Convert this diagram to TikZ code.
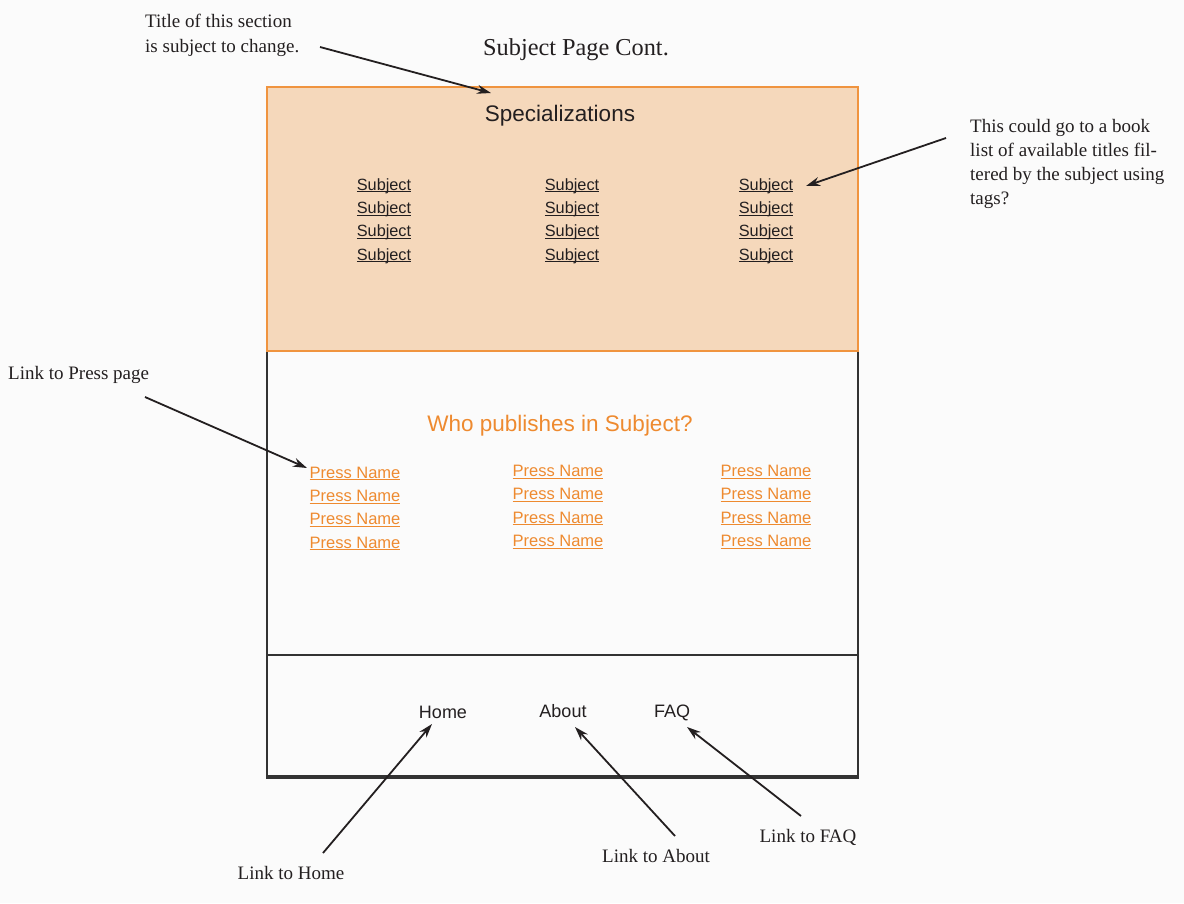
\documentclass[tikz,border=0pt]{standalone}
\usepackage{fontspec}
\setmainfont{Liberation Serif}
\newfontfamily\helv{Liberation Sans}
\usetikzlibrary{arrows.meta}
\definecolor{bgc}{HTML}{FBFBFB}
\definecolor{ink}{HTML}{231F20}
\definecolor{orfill}{HTML}{F5D8BB}
\definecolor{orline}{HTML}{F0943F}
\definecolor{ortext}{HTML}{EE8A2F}
\definecolor{boxline}{HTML}{333333}
\tikzset{
  ann/.style={inner sep=0pt, text=ink, font=\fontsize{19}{24}\selectfont},
  subj/.style={inner sep=0pt, anchor=base, text=ink, font=\helv\fontsize{16.3}{19}\selectfont},
  press/.style={inner sep=0pt, anchor=base, text=ortext, font=\helv\fontsize{16.5}{19}\selectfont},
  navl/.style={inner sep=0pt, anchor=base, text=ink, font=\helv\fontsize{18}{21}\selectfont},
  head/.style={inner sep=0pt, anchor=base, font=\helv\fontsize{22.5}{26}\selectfont},
  arr/.style={draw=ink, line width=1.8pt, -{Stealth[length=14pt,width=9pt]}},
}
\newcommand{\ul}[1]{\setbox0\hbox{#1}\rlap{\rule[-2.2pt]{\wd0}{0.9pt}}\box0}
\begin{document}
\begin{tikzpicture}[x=1pt,y=-1pt]
\fill[bgc] (0,0) rectangle (1184,903);
\useasboundingbox (0,0) rectangle (1184,903);
% boxes
\draw[boxline, line width=1.8pt] (267,351) rectangle (858,777);
\draw[boxline, line width=1.6pt] (267,655) -- (858,655);
\draw[boxline, line width=3.2pt] (266,777) -- (859,777);
\draw[orline, fill=orfill, line width=1.6pt] (267,87) rectangle (858,351);
% titles
\node[ann, anchor=base, font=\fontsize{24.3}{28}\selectfont] (pagetitle) at (576,55) {Subject Page Cont.};
\node[head, text=ink] (spec) at (560,121) {Specializations};
\node[head, text=ortext] (who) at (560,431) {Who publishes in Subject?};
% subjects
\foreach \c/\x in {1/384,2/572,3/766}{
  \foreach \r/\y in {1/190,2/213.3,3/236.6,4/260}{
    \node[subj] (s\c\r) at (\x,\y) {\ul{Subject}};
  }
}
% press names
\foreach \r/\y in {1/478,2/501.3,3/524.6,4/548}{
  \node[press] (p1\r) at (355,\y) {\ul{Press Name}};
}
\foreach \c/\x in {2/558,3/766}{
  \foreach \r/\y in {1/476.5,2/499.8,3/523.1,4/546.5}{
    \node[press] (p\c\r) at (\x,\y) {\ul{Press Name}};
  }
}
% nav
\node[navl] (home) at (443,718) {Home};
\node[navl] (about) at (563,717) {About};
\node[navl] (faq) at (672,717) {FAQ};
% annotations
\node[ann, anchor=base west] (t1a) at (145,27) {Title of this section};
\node[ann, anchor=base west] (t1b) at (145,52) {is subject to change.};
\node[ann, anchor=base west] (b1) at (970,132) {This could go to a book};
\node[ann, anchor=base west] (b2) at (970,156) {list of available titles fil-};
\node[ann, anchor=base west] (b3) at (970,180) {tered by the subject using};
\node[ann, anchor=base west] (b4) at (970,204) {tags?};
\node[ann, anchor=base west] (lp) at (8,379) {Link to Press page};
\node[ann, anchor=base] (lh) at (291,879) {Link to Home};
\node[ann, anchor=base] (la) at (656,862) {Link to About};
\node[ann, anchor=base] (lf) at (808,842) {Link to FAQ};
% arrow points
\coordinate (a1s) at (320,47);
\coordinate (a1e) at (491,93);
\coordinate (a2s) at (946,138);
\coordinate (a2e) at (806,186);
\coordinate (a3s) at (145,397);
\coordinate (a3e) at (307,468);
\coordinate (a4s) at (323,853);
\coordinate (a4e) at (432,724);
\coordinate (a5s) at (675,836);
\coordinate (a5e) at (575,727);
\coordinate (a6s) at (801,816);
\coordinate (a6e) at (687,727);
\draw[arr] (a1s) -- (a1e);
\draw[arr] (a2s) -- (a2e);
\draw[arr] (a3s) -- (a3e);
\draw[arr] (a4s) -- (a4e);
\draw[arr] (a5s) -- (a5e);
\draw[arr] (a6s) -- (a6e);
\end{tikzpicture}
\end{document}
